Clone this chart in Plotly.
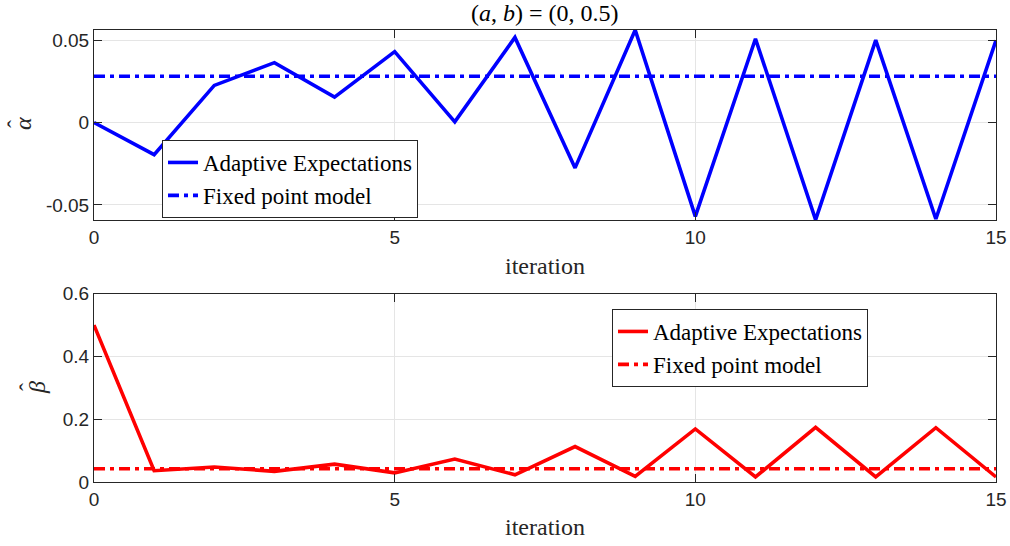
import plotly.graph_objects as go

iterations = list(range(16))
alpha_adaptive = [0.0, -0.0195, 0.0225, 0.0363, 0.0154, 0.0430, 0.0004, 0.0516,
                  -0.0275, 0.0561, -0.0569, 0.0508, -0.0590, 0.0500, -0.0585, 0.0498]
alpha_fixed = 0.0281
beta_adaptive = [0.500, 0.036, 0.048, 0.034, 0.057, 0.029, 0.073, 0.023,
                 0.113, 0.018, 0.169, 0.016, 0.174, 0.016, 0.173, 0.016]
beta_fixed = 0.042

title_text = "(<i>a</i>, <i>b</i>) = (0, 0.5)"
legend_names = ["Adaptive Expectations", "Fixed point model"]

BLUE = "#0000ff"
RED = "#ff0000"
AX = "#262626"
GRID = "#e5e5e5"
SERIF = "Liberation Serif"
SANS = "Liberation Sans"
DASHDOT = "11px,5px,4px,5px"
LW = 3.6

fig = go.Figure()
fig.add_trace(go.Scatter(x=iterations, y=alpha_adaptive, mode="lines",
                         line=dict(color=BLUE, width=LW), name=legend_names[0],
                         xaxis="x", yaxis="y", legend="legend"))
fig.add_trace(go.Scatter(x=iterations, y=[alpha_fixed] * len(iterations), mode="lines",
                         line=dict(color=BLUE, width=LW, dash=DASHDOT), name=legend_names[1],
                         xaxis="x", yaxis="y", legend="legend"))
fig.add_trace(go.Scatter(x=iterations, y=beta_adaptive, mode="lines",
                         line=dict(color=RED, width=LW), name=legend_names[0],
                         xaxis="x2", yaxis="y2", legend="legend2"))
fig.add_trace(go.Scatter(x=iterations, y=[beta_fixed] * len(iterations), mode="lines",
                         line=dict(color=RED, width=LW, dash=DASHDOT), name=legend_names[1],
                         xaxis="x2", yaxis="y2", legend="legend2"))

L, R, T, B = 94, 14, 30, 64
W, H = 1010, 546
ph = H - T - B
pw = W - L - R
top_dom = [(H - B - 220) / ph, 1.0]
bot_dom = [0.0, (H - B - 293.7) / ph]

axis_common = dict(showline=True, linecolor=AX, linewidth=1, mirror="allticks",
                   ticks="inside", ticklen=8, tickcolor=AX, tickwidth=1,
                   showgrid=True, gridcolor=GRID, gridwidth=1, zeroline=False,
                   automargin=False,
                   tickfont=dict(family=SANS, size=19, color=AX))

legend_common = dict(xanchor="left", yanchor="top", bgcolor="white", bordercolor=AX,
                     borderwidth=1, font=dict(family=SERIF, size=23, color="black"),
                     tracegroupgap=0, entrywidth=270, entrywidthmode="pixels")

fig.update_layout(
    width=W, height=H,
    margin=dict(l=L, r=R, t=T, b=B, autoexpand=False),
    paper_bgcolor="white", plot_bgcolor="white",
    xaxis=dict(domain=[0, 1], range=[0, 15], tickvals=[0, 5, 10, 15], anchor="y", **axis_common),
    yaxis=dict(domain=top_dom, range=[-0.0591, 0.0561], tickvals=[-0.05, 0, 0.05],
               ticktext=["-0.05", "0", "0.05"], anchor="x", **axis_common),
    xaxis2=dict(domain=[0, 1], range=[0, 15], tickvals=[0, 5, 10, 15], anchor="y2", **axis_common),
    yaxis2=dict(domain=bot_dom, range=[0, 0.6], tickvals=[0, 0.2, 0.4, 0.6],
                ticktext=["0", "0.2", "0.4", "0.6"], anchor="x2", **axis_common),
    legend=dict(x=(162 - L) / pw, y=(H - B - 140) / ph, **legend_common),
    legend2=dict(x=(612 - L) / pw, y=(H - B - 309) / ph, **legend_common),
    showlegend=True,
)


def px_x(x):
    return (x - L) / pw


def px_y(y):
    return (H - B - y) / ph


annotations = [
    dict(text=title_text, x=0.5, y=px_y(13), font=dict(family=SERIF, size=24, color="black")),
    dict(text="iteration", x=0.5, y=px_y(266), font=dict(family=SERIF, size=24, color=AX)),
    dict(text="iteration", x=0.5, y=px_y(527), font=dict(family=SERIF, size=24, color=AX)),
    dict(text="<i>α</i>", x=px_x(23), y=px_y(124), textangle=-90,
         font=dict(family=SERIF, size=24, color=AX)),
    dict(text="ˆ", x=px_x(16), y=px_y(124), textangle=-90,
         font=dict(family=SERIF, size=24, color=AX)),
    dict(text="<i>β</i>", x=px_x(37), y=px_y(388), textangle=-90,
         font=dict(family=SERIF, size=24, color=AX)),
    dict(text="ˆ", x=px_x(28), y=px_y(387), textangle=-90,
         font=dict(family=SERIF, size=24, color=AX)),
]
for a in annotations:
    a.update(xref="paper", yref="paper", showarrow=False, xanchor="center", yanchor="middle")
fig.update_layout(annotations=annotations)

fig.write_html("out.html")
